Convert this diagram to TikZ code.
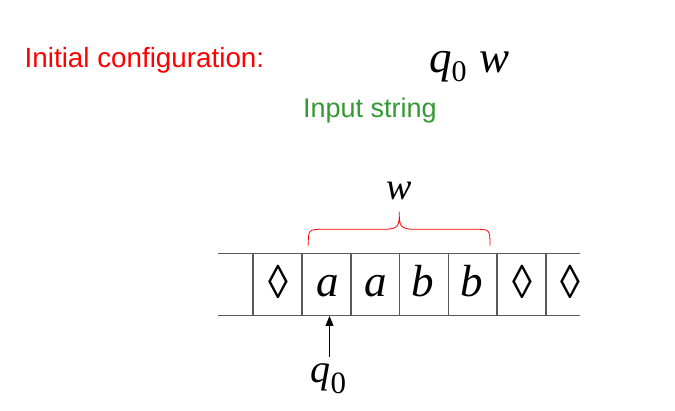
\documentclass[tikz,border=0pt]{standalone}
\usepackage{fontspec}
\setmainfont{Liberation Serif}
\newfontfamily\arialfont{Liberation Sans}
\usetikzlibrary{arrows.meta}
\definecolor{labelgreen}{RGB}{51,153,51}
\definecolor{tapegray}{RGB}{90,90,90}
\begin{document}
\begin{tikzpicture}[x=1pt,y=-1pt,
  tapeline/.style={draw=tapegray,line width=1.1pt},
  sym/.style={anchor=base,inner sep=0pt,font=\fontsize{45}{45}\selectfont\itshape},
  lozsym/.style={anchor=base,inner sep=0pt,font=\fontsize{40}{40}\selectfont},
  bracestyle/.style={draw=red,line width=0.8pt},
  headarrow/.style={draw=black,line width=0.9pt,-{Triangle[length=10pt,width=8pt]}}]
\useasboundingbox (0,0) rectangle (675,411);
% top texts
\node[anchor=base west,inner sep=0pt,text=red,font=\arialfont\fontsize{27.8}{28}\selectfont] (init) at (24.5,68) {Initial configuration:};
\node[anchor=base west,inner sep=0pt,font=\fontsize{45}{45}\selectfont] (conf) at (429,73)
  {\itshape q\raisebox{-9pt}{\upshape\fontsize{30}{30}\selectfont 0}\hspace{13pt}w};
\node[anchor=base west,inner sep=0pt,text=labelgreen,font=\arialfont\fontsize{27}{27}\selectfont] (inp) at (303,118) {Input string};
% tape
\draw[tapeline] (218,253.3) -- (580,253.3);
\draw[tapeline] (218,315.7) -- (580,315.7);
\foreach \x in {253,302,351,399.5,448.5,497,546}
  \draw[tapeline] (\x,253.3) -- (\x,315.7);
\node[lozsym] (c1) at (278.5,299) {\scalebox{1}[1.18]{◊}};
\node[sym] (c2) at (327.5,297) {a};
\node[sym] (c3) at (376,297) {a};
\node[sym] (c4) at (423,297) {b};
\node[sym] (c5) at (471.5,297) {b};
\node[lozsym] (c6) at (522,299) {\scalebox{1}[1.18]{◊}};
\node[lozsym] (c7) at (570,299) {\scalebox{1}[1.18]{◊}};
% brace
\draw[bracestyle] (308.3,245.7) .. controls (308.3,229.3) and (308.3,229.3) .. (324,229.3)
  -- (384,229.3) .. controls (399.3,229.3) and (399.3,225) .. (399.3,211.7)
  .. controls (399.3,225) and (399.3,229.3) .. (414.6,229.3)
  -- (474.5,229.3) .. controls (490,229.3) and (490,229.3) .. (490,245.7);
\node[anchor=base,inner sep=0pt,font=\fontsize{38}{38}\selectfont\itshape] (wlab) at (399.5,200) {w};
% head
\coordinate (headtip) at (329.5,316);
\node[anchor=base west,inner sep=0pt,font=\fontsize{40}{40}\selectfont] (q0) at (310.5,383)
  {\itshape q\raisebox{-11pt}{\upshape\fontsize{31}{31}\selectfont 0}};
\draw[headarrow] (329.5,357) -- (headtip);
\end{tikzpicture}
\end{document}
